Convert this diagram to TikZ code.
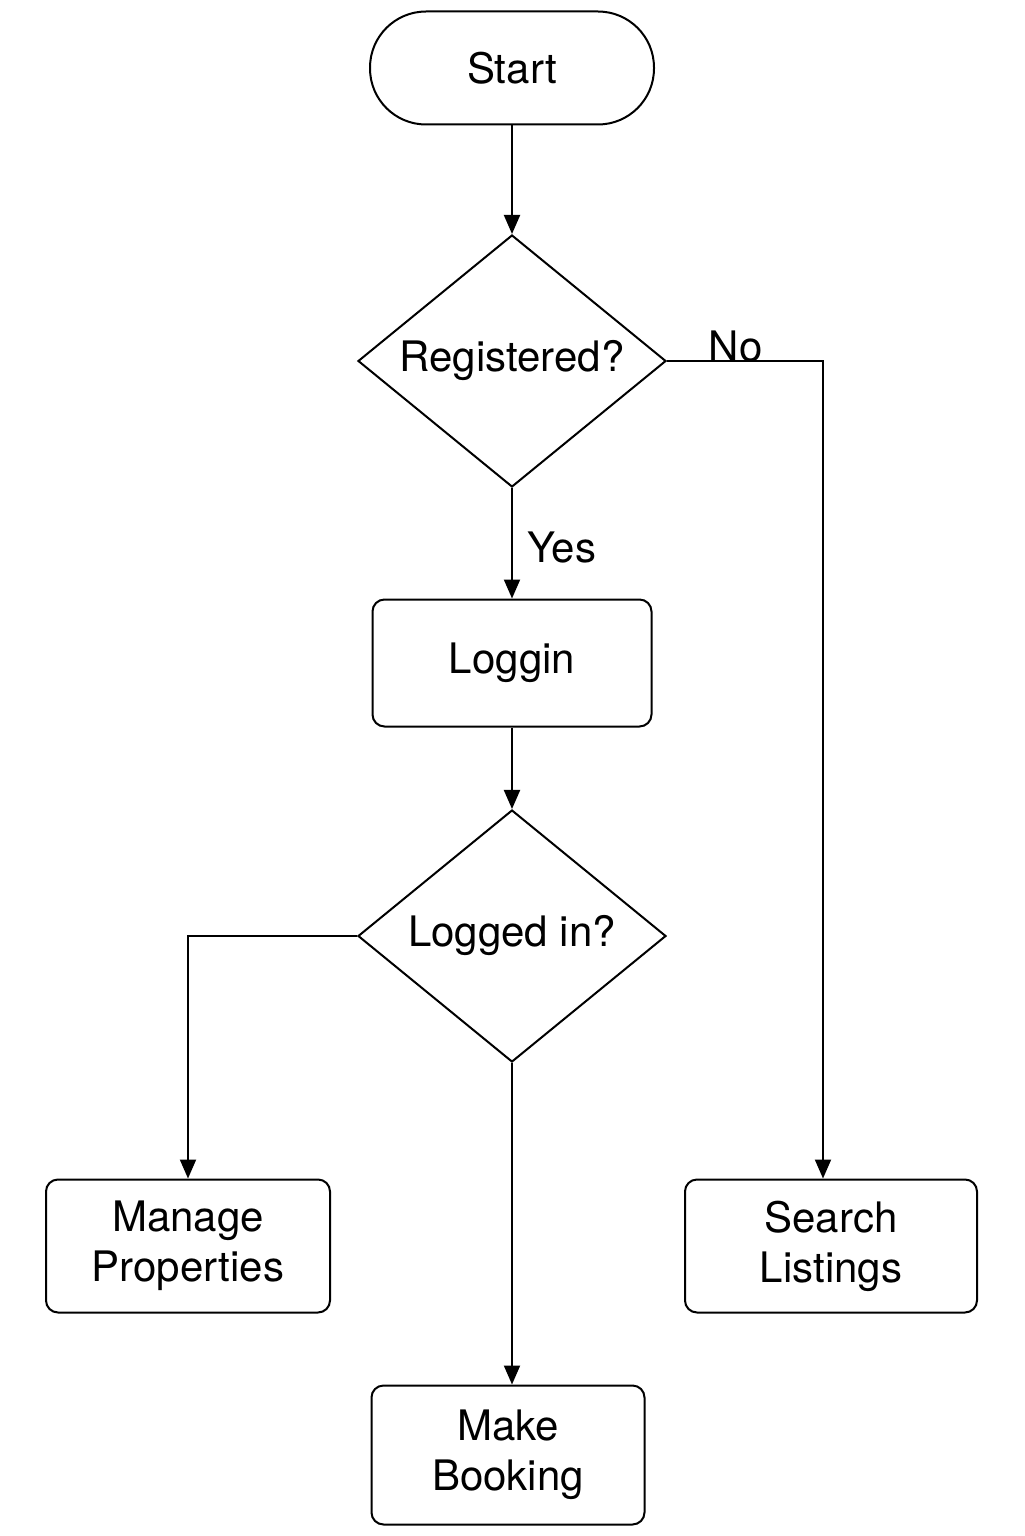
\documentclass[tikz,border=0pt]{standalone}
\usepackage{fontspec}
\setmainfont{TeX Gyre Heros}
\usepackage{tikz}
\usetikzlibrary{arrows.meta, positioning, shapes.geometric}

\begin{document}
\begin{tikzpicture}[x=0.5pt, y=-0.5pt,
		every node/.style={font=\fontsize{21pt}{25pt}\selectfont},
		terminal/.style={draw, line width=1pt, rounded corners=28pt, minimum width=142pt, minimum height=56.5pt},
		decision/.style={draw, line width=1pt, diamond, aspect=1.22, inner sep=0pt, minimum width=154pt, minimum height=126pt},
		process/.style={draw, line width=1pt, rounded corners=6pt, align=center},
		flow/.style={line width=1pt, -{Triangle[length=9.5pt, width=8pt]}}]
			% Fix the page size
			\useasboundingbox (0,0) rectangle (1024,1536);
			
			% Draw the nodes
			\node[terminal] (start) at (512,68) {Start};
			\node[decision] (reg) at (512,361) {Registered?};
			\node[process, minimum width=139.5pt, minimum height=63.5pt] (login) at (512,663) {Loggin};
			\node[decision] (logd) at (512,936) {Logged in?};
			\node[process, minimum width=142pt, minimum height=66.5pt] (manage) at (188,1246) {Manage\\Properties};
			\node[process, minimum width=146pt, minimum height=66.5pt] (search) at (831,1246) {Search\\Listings};
			\node[process, minimum width=136.5pt, minimum height=69.5pt] (booking) at (508,1455) {Make\\Booking};
			
			% Draw the connectors
			\draw[flow] (start) -- (reg);
			\draw[flow] (reg) -- node[right, xshift=4pt, yshift=-2pt] {Yes} (login);
			\draw[flow] (reg.east) -| node[above, pos=0.22, inner sep=0pt, yshift=-1pt] {No} ([xshift=-4pt]search.north);
			\draw[flow] (login) -- (logd);
			\draw[flow] (logd.west) -| (manage.north);
			\draw[flow] (logd.south) -- (logd.south |- booking.north);
		\end{tikzpicture}
\end{document}
